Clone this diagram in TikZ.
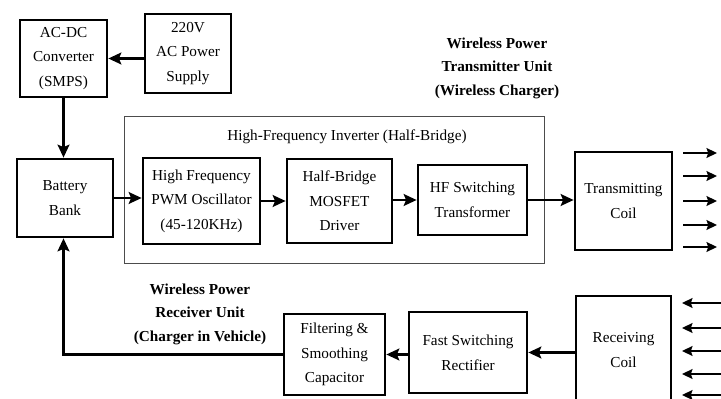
\documentclass[tikz,border=0pt]{standalone}
\usepackage{fontspec}
\setmainfont{Liberation Serif}
\usetikzlibrary{arrows.meta}
\usetikzlibrary{positioning}

\tikzset{
  block/.style={draw, line width=2.3pt, align=center, inner sep=2pt, font=\fontsize{13}{21}\selectfont},
  conn/.style={line width=2.3pt, -{Stealth[length=11pt,width=10pt,inset=2pt]}},
  wave/.style={line width=1.1pt, -{Stealth[length=9pt,width=8.5pt,inset=1.5pt]}},
  heading/.style={align=center, font=\bfseries\fontsize{13}{20}\selectfont},
}

\begin{document}
\begin{tikzpicture}[x=0.03cm,y=-0.03cm]
            \clip (0,0) rectangle (721,399);
            \fill[white] (0,0) rectangle (721,399);

            % transmitter side
            \node[block, minimum width=2.61cm, minimum height=2.31cm] (acdc) at (63.5,58.5) {AC-DC\\Converter\\(SMPS)};
            \node[block, minimum width=2.58cm, minimum height=2.37cm] (supply) at (188,53.5) {220V\\AC Power\\Supply};
            \node[block, minimum width=2.88cm, minimum height=2.34cm] (battery) at (65,198) {Battery\\Bank};

            \node[draw=black!70, line width=0.8pt, minimum width=12.6cm, minimum height=4.41cm] (inverter) at (334,189.5) {};
            \node[font=\fontsize{13}{20}\selectfont] (invtitle) at (347,137) {High-Frequency Inverter (Half-Bridge)};

            \node[block, minimum width=3.51cm, minimum height=2.58cm] (pwm) at (201.5,201) {High Frequency\\PWM Oscillator\\(45-120KHz)};
            \node[block, minimum width=3.15cm, minimum height=2.52cm] (bridge) at (339.5,201) {Half-Bridge\\MOSFET\\Driver};
            \node[block, minimum width=3.27cm, minimum height=2.1cm] (hf) at (472.5,200) {HF Switching\\Transformer};
            \node[block, minimum width=2.91cm, minimum height=2.94cm] (txcoil) at (623.5,201) {Transmitting\\Coil};

            \node[heading] (txtitle) at (497,68) {Wireless Power\\Transmitter Unit\\(Wireless Charger)};

            % receiver side
            \node[block, minimum width=2.85cm, minimum height=3.24cm] (rxcoil) at (623.5,350) {Receiving\\Coil};
            \node[block, minimum width=3.54cm, minimum height=2.43cm] (fast) at (468,352.5) {Fast Switching\\Rectifier};
            \node[block, minimum width=3.03cm, minimum height=2.43cm] (filter) at (334.5,354.5) {Filtering \&\\Smoothing\\Capacitor};

            \node[heading] (rxtitle) at (200,314) {Wireless Power\\Receiver Unit\\(Charger in Vehicle)};

            % connectors
            \draw[conn] (supply.west |- acdc.east) -- (acdc.east);
            \draw[conn] (acdc.south) -- (acdc.south |- battery.north);
            \draw[conn] (battery.east) -- (battery.east -| pwm.west);
            \draw[conn] (pwm.east |- bridge.west) -- (bridge.west);
            \draw[conn] (bridge.east |- hf.west) -- (hf.west);
            \draw[conn] (hf.east) -- (hf.east -| txcoil.west);
            \draw[conn] (rxcoil.west |- fast.east) -- (fast.east);
            \draw[conn] (fast.west |- filter.east) -- (filter.east);
            \draw[conn] (filter.west) -| (acdc.south |- battery.south);

            % field arrows
            \foreach \y [count=\i] in {153,176,201,225,247}{
                \coordinate (txa\i) at (683,\y);
                \coordinate (txb\i) at (717,\y);
                \draw[wave] (txa\i) -- (txb\i);
            }
            \foreach \y [count=\i] in {303,328,351,374,395}{
                \coordinate (rxa\i) at (722,\y);
                \coordinate (rxb\i) at (682,\y);
                \draw[wave] (rxa\i) -- (rxb\i);
            }
\end{tikzpicture}
\end{document}
